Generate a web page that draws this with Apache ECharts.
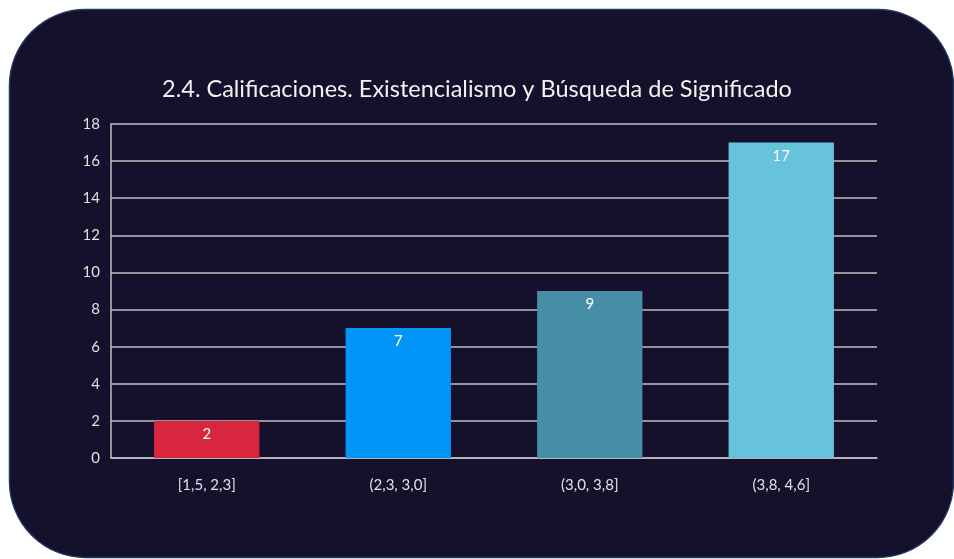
<!DOCTYPE html>
<html><head><meta charset="utf-8">
<script src="https://cdn.jsdelivr.net/npm/echarts@6/dist/echarts.min.js"></script>
<style>html,body{margin:0;padding:0;background:#fff}#c{width:954px;height:559px}</style>
</head><body><div id="c"></div>
<script>
const categories = ['[1,5, 2,3]', '(2,3, 3,0]', '(3,0, 3,8]', '(3,8, 4,6]'];
const values = [2, 7, 9, 17];
const barColors = ['#d7263d', '#0095f6', '#458ea6', '#67c3dc'];
const titleText = '2.4. Calificaciones. Existencialismo y Búsqueda de Significado';

const chart = echarts.init(document.getElementById('c'), null, {renderer: 'canvas'});
const font = 'Lato, "Open Sans", sans-serif';
chart.setOption({
  backgroundColor: '#ffffff',
  animation: false,
  graphic: [{
    type: 'rect', z: -10, silent: true,
    shape: {x: 9.5, y: 9.5, width: 944, height: 548, r: 76},
    style: {fill: '#15112c', stroke: '#1f3a64', lineWidth: 1.5}
  }],
  title: {
    text: titleText, left: 'center', top: 72,
    textStyle: {color: '#f2f2f2', fontSize: 23.5, fontWeight: 'normal', fontFamily: font}
  },
  grid: {left: 111, right: 77, top: 124, bottom: 101},
  xAxis: {
    type: 'category', data: categories,
    axisLine: {show: true, lineStyle: {color: '#bfbfbf', width: 1.5}},
    axisTick: {show: false},
    axisLabel: {color: '#e0e0e0', fontSize: 15, fontFamily: font, margin: 20}
  },
  yAxis: {
    type: 'value', min: 0, max: 18, interval: 2,
    axisLine: {show: true, lineStyle: {color: '#bfbfbf', width: 1.5}},
    axisTick: {show: false},
    splitLine: {lineStyle: {color: '#bfbfbf', width: 1.5}},
    axisLabel: {color: '#e0e0e0', fontSize: 15, fontFamily: font, margin: 11}
  },
  series: [{
    type: 'bar', barWidth: '55%',
    data: values.map((v, i) => ({value: v, itemStyle: {color: barColors[i]}})),
    label: {show: true, position: 'insideTop', distance: 6, color: '#ffffff', fontSize: 15, fontFamily: font}
  }]
});
</script></body></html>
